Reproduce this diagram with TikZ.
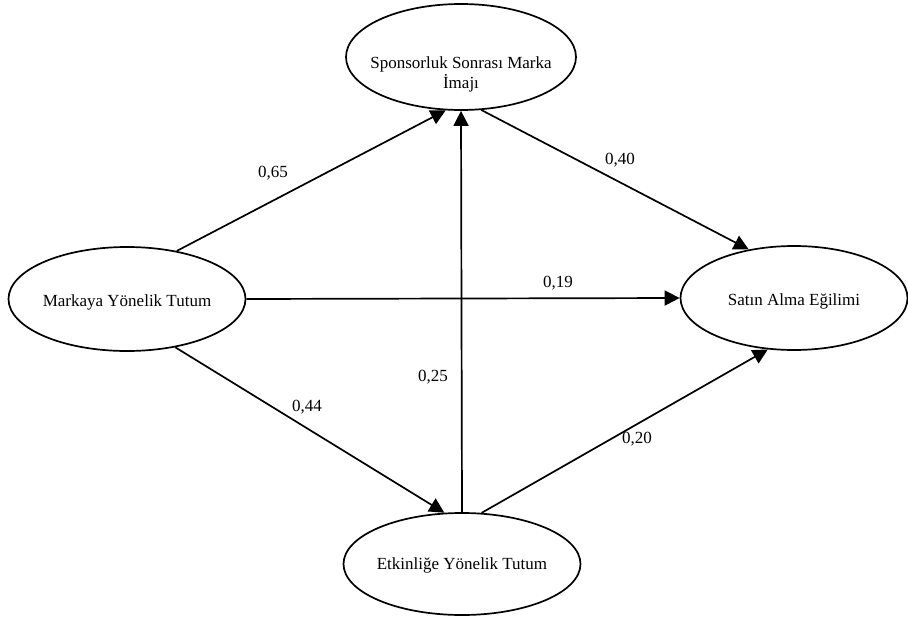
\documentclass[tikz,border=0pt]{standalone}
\usepackage{fontspec}
\setmainfont{Liberation Serif}
\usetikzlibrary{shapes.geometric,arrows.meta}
\begin{document}
\begin{tikzpicture}[x=1pt,y=-1pt,
  ell/.style={draw,ellipse,line width=1.7pt,inner sep=0pt},
  txt/.style={font=\fontsize{17}{20}\selectfont,align=center,inner sep=0pt},
  arr/.style={line width=1.7pt,-{Triangle[length=15pt,width=15pt]}},
  coef/.style={font=\fontsize{17}{20}\selectfont,inner sep=0pt}]
\useasboundingbox (0,0) rectangle (908,618);
\node[ell,minimum width=230pt,minimum height=106pt] (top) at (461,57) {};
\node[txt] (toptxt) at (461,74) {Sponsorluk Sonrası Marka\\İmajı};
\node[ell,minimum width=237pt,minimum height=104pt] (left) at (127,299) {};
\node[txt] (lefttxt) at (127,302) {Markaya Yönelik Tutum};
\node[ell,minimum width=237pt,minimum height=102pt] (bot) at (462,564) {};
\node[txt] (bottxt) at (462,565) {Etkinliğe Yönelik Tutum};
\node[ell,minimum width=227pt,minimum height=104pt] (right) at (794,298) {};
\node[txt] (righttxt) at (794,301) {Satın Alma Eğilimi};
\draw[arr] (left.44) -- (top.254);
\draw[arr] (left.east) -- (right.west);
\draw[arr] (left.-45) -- (bot.109);
\draw[arr] (bot.north) -- (top.south);
\draw[arr] (top.-69) -- (right.133);
\draw[arr] (bot.69) -- (right.243);
\node[coef] (c65) at (273,173) {0,65};
\node[coef] (c40) at (620,160) {0,40};
\node[coef] (c19) at (558,283) {0,19};
\node[coef] (c25) at (433,377) {0,25};
\node[coef] (c44) at (307,407) {0,44};
\node[coef] (c20) at (637,439) {0,20};
\end{tikzpicture}
\end{document}
